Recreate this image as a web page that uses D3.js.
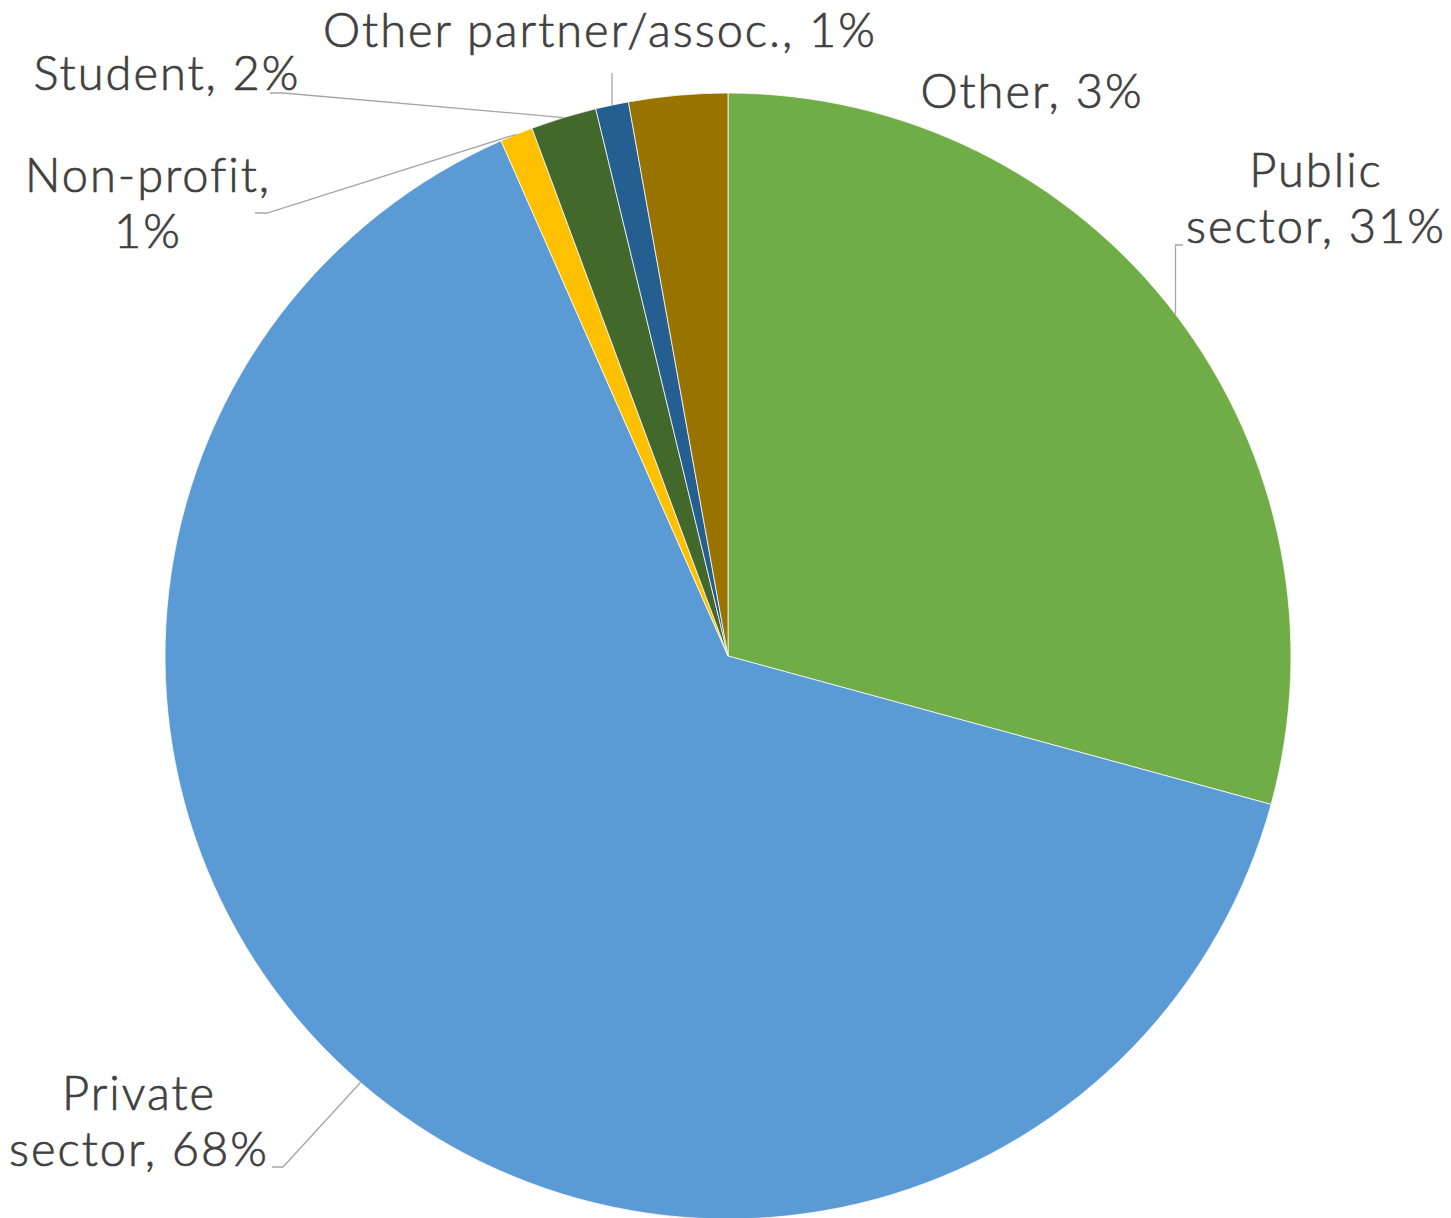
<!DOCTYPE html>
<html>
<head>
<meta charset="utf-8">
<script src="https://cdn.jsdelivr.net/npm/d3@7"></script>
<style>
  html, body { margin: 0; padding: 0; background: #ffffff; }
  svg { display: block; }
  .lbl { font-family: Lato, "Noto Sans", sans-serif; font-size: 47px; font-weight: 300; letter-spacing: 2px; fill: #404040; stroke: #404040; stroke-width: 0.7px; }
</style>
</head>
<body>
<svg id="chart" width="1451" height="1218"></svg>
<script>
// Respondent sectors, in drawing order clockwise from 12 o'clock
const categories = ["Public sector", "Private sector", "Non-profit", "Student", "Other partner/assoc.", "Other"];
const shares = [31, 68, 1, 2, 1, 3];
const colors = ["#70AD47", "#5B9BD5", "#FFC000", "#43682B", "#255E91", "#997300"];

// Label text lines (wrapped as laid out), label anchor and leader elbow/end points
const labelLines = [
  ["Public", "sector, 31%"],
  ["Private", "sector, 68%"],
  ["Non-profit,", "1%"],
  ["Student, 2%"],
  ["Other partner/assoc., 1%"],
  ["Other, 3%"]
];
const labelLayout = [
  { x: 1316, y: 187, leader: [[null, 245], [1183, 245]] },
  { x: 139, y: 1110, leader: [[283, 1167], [272, 1167]] },
  { x: 148, y: 192, leader: [[267, 213], [255, 213]] },
  { x: 167, y: 90, leader: [[283, 93], [270, 93]] },
  { x: 600, y: 47, leader: [[null, 73]] },
  { x: 1032, y: 108, leader: null }
];

const width = 1451, height = 1218;
const cx = 728, cy = 656, radius = 563;
const lineHeight = 56;

const svg = d3.select("#chart");
const g = svg.append("g").attr("transform", `translate(${cx},${cy})`);

const data = categories.map((c, i) => ({ category: c, value: shares[i], i }));

const pie = d3.pie()
  .value(d => d.value)
  .sort(null)
  .startAngle(0)
  .endAngle(2 * Math.PI);

const arcs = pie(data);

const arc = d3.arc().innerRadius(0).outerRadius(radius);

const color = d3.scaleOrdinal().domain(categories).range(colors);

g.selectAll("path.slice")
  .data(arcs)
  .join("path")
  .attr("class", "slice")
  .attr("d", arc)
  .attr("fill", d => color(d.data.category))
  .attr("stroke", "#ffffff")
  .attr("stroke-width", 0.75)
  .attr("stroke-linejoin", "round");

// Point on the rim at the middle of a slice, in page coordinates
function rimPoint(d) {
  const a = (d.startAngle + d.endAngle) / 2;
  return [cx + radius * Math.sin(a), cy - radius * Math.cos(a)];
}

const line = d3.line();

// Leader lines
arcs.forEach((d, i) => {
  const lay = labelLayout[i];
  if (!lay.leader) return;
  const p0 = rimPoint(d);
  const pts = [p0].concat(lay.leader.map(p => [p[0] === null ? p0[0] : p[0], p[1]]));
  svg.append("path")
    .attr("d", line(pts))
    .attr("fill", "none")
    .attr("stroke", "#A6A6A6")
    .attr("stroke-width", 1.3);
});

// Data labels
arcs.forEach((d, i) => {
  const lay = labelLayout[i];
  const t = svg.append("text")
    .attr("class", "lbl")
    .attr("text-anchor", "middle")
    .attr("x", lay.x)
    .attr("y", lay.y);
  labelLines[i].forEach((s, k) => {
    t.append("tspan")
      .attr("x", lay.x)
      .attr("dy", k === 0 ? 0 : lineHeight)
      .text(s);
  });
});
</script>
</body>
</html>
